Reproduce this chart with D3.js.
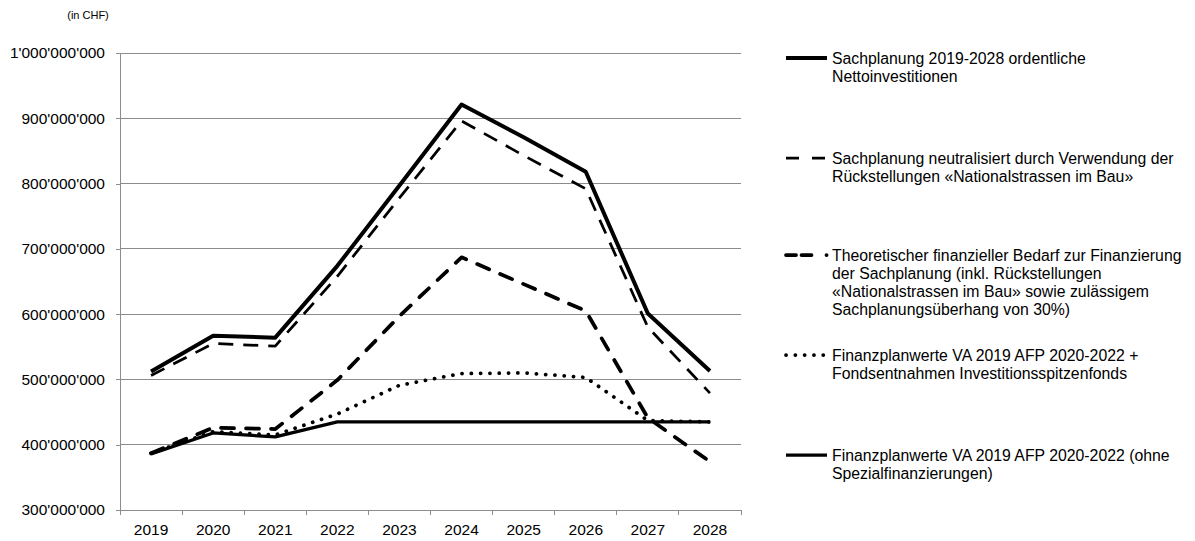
<!DOCTYPE html>
<html>
<head>
<meta charset="utf-8">
<script src="https://cdn.jsdelivr.net/npm/d3@7/dist/d3.min.js"></script>
<style>
  html, body { margin: 0; padding: 0; background: #fff; }
  svg { display: block; font-family: "Liberation Sans", Arial, sans-serif; }
</style>
</head>
<body>
<svg id="chart" width="1195" height="541"></svg>
<script>
// Years on the horizontal axis
const years = ["2019", "2020", "2021", "2022", "2023", "2024", "2025", "2026", "2027", "2028"];

// Series values in CHF
const sachplanung = [512e6, 567e6, 564e6, 674e6, 797e6, 921e6, 871e6, 818e6, 601e6, 513e6];
const neutralisiert = [506e6, 555e6, 551e6, 658e6, 778e6, 896e6, 843e6, 792e6, 580e6, 479e6];
const theoretischerBedarf = [387e6, 426e6, 424e6, 499e6, 597e6, 687e6, 646e6, 605e6, 441e6, 374e6];
const mitFondsentnahmen = [387e6, 420e6, 415e6, 447e6, 491e6, 509e6, 510e6, 503e6, 437e6, 435e6];
const finanzplanwerte = [386e6, 418e6, 412e6, 435e6, 435e6, 435e6, 435e6, 435e6, 435e6, 435e6];

// Y axis tick values
const yTicks = [300e6, 400e6, 500e6, 600e6, 700e6, 800e6, 900e6, 1000e6];

// Legend labels (one array of lines per series)
const legendLabels = [
  ["Sachplanung 2019-2028 ordentliche", "Nettoinvestitionen"],
  ["Sachplanung neutralisiert durch Verwendung der", "Rückstellungen «Nationalstrassen im Bau»"],
  ["Theoretischer finanzieller Bedarf zur Finanzierung", "der Sachplanung (inkl. Rückstellungen", "«Nationalstrassen im Bau» sowie zulässigem", "Sachplanungsüberhang von 30%)"],
  ["Finanzplanwerte VA 2019 AFP 2020-2022 +", "Fondsentnahmen Investitionsspitzenfonds"],
  ["Finanzplanwerte VA 2019 AFP 2020-2022 (ohne", "Spezialfinanzierungen)"]
];

const seriesValues = [sachplanung, neutralisiert, theoretischerBedarf, mitFondsentnahmen, finanzplanwerte];

// Line styles per series (dash = in the plot, keyDash = in the legend key)
const styles = [
  { width: 4, dash: null, keyDash: null, cap: "butt" },
  { width: 2.75, dash: "15,10", keyDash: "13,13", cap: "butt" },
  { width: 3.75, dash: "13,12", keyDash: "10,5.5,10,15,0.1,50", cap: "round" },
  { width: 3.75, dash: "0.1,9.2", keyDash: "0.1,9.2", cap: "round" },
  { width: 3.25, dash: null, keyDash: null, cap: "butt" }
];

const svg = d3.select("#chart");
const plot = { left: 120, right: 741, top: 53, bottom: 510 };

const x = d3.scaleBand().domain(years).range([plot.left, plot.right]).padding(0);
const xc = d => x(d) + x.bandwidth() / 2;
const y = d3.scaleLinear().domain([300e6, 1000e6]).range([plot.bottom, plot.top]);

const chf = d3.formatLocale({ decimal: ".", thousands: "'", grouping: [3], currency: ["", ""] }).format(",d");
const axisColor = "#8c8c8c";
const axisFont = 15.5;

// Horizontal gridlines
svg.append("g")
  .selectAll("line")
  .data(yTicks.slice(1))
  .join("line")
  .attr("x1", plot.left).attr("x2", plot.right)
  .attr("y1", d => y(d)).attr("y2", d => y(d))
  .attr("stroke", axisColor).attr("stroke-width", 1)
  .attr("shape-rendering", "crispEdges");

// Y axis
const yAxis = svg.append("g")
  .attr("transform", `translate(${plot.left},0)`)
  .call(d3.axisLeft(y).tickValues(yTicks).tickFormat(chf).tickSize(4).tickPadding(11));
yAxis.select(".domain").attr("stroke", axisColor).attr("shape-rendering", "crispEdges");
yAxis.selectAll(".tick line").attr("stroke", axisColor).attr("shape-rendering", "crispEdges");
yAxis.selectAll("text").attr("font-size", axisFont).attr("fill", "#000")
  .attr("font-family", "'Liberation Sans', Arial, sans-serif");

// X axis with tick marks on category boundaries
const xAxis = svg.append("g")
  .attr("transform", `translate(0,${plot.bottom})`)
  .call(d3.axisBottom(x).tickSize(0).tickPadding(14));
xAxis.select(".domain").attr("stroke", axisColor).attr("shape-rendering", "crispEdges");
xAxis.selectAll("text").attr("font-size", axisFont).attr("fill", "#000")
  .attr("font-family", "'Liberation Sans', Arial, sans-serif");
xAxis.append("g")
  .selectAll("line")
  .data(years.concat([null]))
  .join("line")
  .attr("x1", (d, i) => i < years.length ? x(d) : plot.right)
  .attr("x2", (d, i) => i < years.length ? x(d) : plot.right)
  .attr("y1", 0).attr("y2", 5)
  .attr("stroke", axisColor)
  .attr("shape-rendering", "crispEdges");

// Unit label
svg.append("text")
  .attr("x", 88).attr("y", 19)
  .attr("text-anchor", "middle")
  .attr("font-size", 11)
  .text("(in CHF)");

// Series lines
const line = d3.line()
  .x((d, i) => xc(years[i]))
  .y(d => y(d));

seriesValues.forEach((vals, i) => {
  const s = styles[i];
  svg.append("path")
    .datum(vals)
    .attr("d", line)
    .attr("fill", "none")
    .attr("stroke", "#000")
    .attr("stroke-width", s.width)
    .attr("stroke-linecap", s.cap)
    .attr("stroke-linejoin", "round")
    .attr("stroke-dasharray", s.dash);
});

// Legend
const legendTop = [58, 158, 255, 355, 455];
const legend = svg.append("g");
legendLabels.forEach((lines, i) => {
  const s = styles[i];
  const g = legend.append("g").attr("transform", `translate(0,${legendTop[i]})`);
  g.append("line")
    .attr("x1", 786).attr("x2", 827)
    .attr("y1", 0).attr("y2", 0)
    .attr("stroke", "#000")
    .attr("stroke-width", s.width)
    .attr("stroke-linecap", s.cap)
    .attr("stroke-dasharray", s.keyDash);
  g.selectAll("text")
    .data(lines)
    .join("text")
    .attr("x", 832)
    .attr("y", (d, j) => j * 18 + 5.5)
    .attr("font-size", 15.8)
    .attr("fill", "#000")
    .text(d => d);
});
</script>
</body>
</html>
